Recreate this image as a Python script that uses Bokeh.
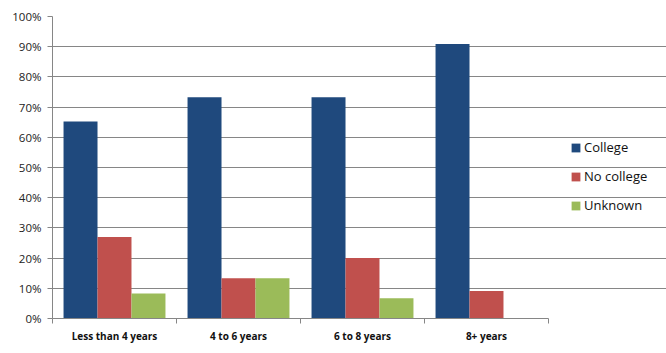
from bokeh.plotting import figure
from bokeh.models import ColumnDataSource, FixedTicker, NumeralTickFormatter, Legend, LegendItem, Range1d
from bokeh.transform import dodge
from bokeh.embed import file_html
from bokeh.resources import INLINE

categories = ["Less than 4 years", "4 to 6 years", "6 to 8 years", "8+ years"]
college = [0.652, 0.733, 0.733, 0.909]
no_college = [0.270, 0.133, 0.200, 0.091]
unknown = [0.083, 0.133, 0.067, 0.0]
series_names = ["College", "No college", "Unknown"]
colors = ["#1F497D", "#C0504D", "#9BBB59"]

n = len(categories)
xpos = [i + 0.5 for i in range(n)]
source = ColumnDataSource(dict(x=xpos, college=college, no_college=no_college, unknown=unknown))

# plot frame extends to the right edge so the legend can sit inside it;
# grid and x axis are bounded to the category span
frame_w = 666 - 52
cat_px = 124.0
p = figure(width=666, height=353, output_backend="svg", toolbar_location=None,
           x_range=Range1d(0, frame_w / cat_px), y_range=Range1d(0, 1),
           min_border_left=52, min_border_right=0, min_border_top=16, min_border_bottom=35)
p.outline_line_color = None
p.background_fill_color = "white"

bw = 0.274
renderers = []
for off, col, c in zip([-bw, 0, bw], ["college", "no_college", "unknown"], colors):
    r = p.vbar(x=dodge("x", off, range=p.x_range), top=col, width=bw, bottom=0,
               source=source, fill_color=c, line_color=None)
    renderers.append(r)

# axes
p.xgrid.visible = False
p.ygrid.grid_line_color = "#868686"
p.ygrid.grid_line_width = 1
p.ygrid.ticker = FixedTicker(ticks=[i / 10 for i in range(11)])
p.ygrid.bounds = (0, n)

p.yaxis.ticker = FixedTicker(ticks=[i / 10 for i in range(11)])
p.yaxis.formatter = NumeralTickFormatter(format="0%")
p.yaxis.axis_line_color = "#868686"
p.yaxis.major_tick_line_color = "#868686"
p.yaxis.major_tick_out = 5
p.yaxis.major_tick_in = 0
p.yaxis.minor_tick_line_color = None
p.yaxis.major_label_text_font = "Open Sans"
p.yaxis.major_label_text_font_size = "11.5px"
p.yaxis.major_label_text_color = "#222222"
p.yaxis.major_label_standoff = 6

p.xaxis.bounds = (0, n)
p.xaxis.ticker = FixedTicker(ticks=xpos, minor_ticks=list(range(n + 1)))
p.xaxis.major_label_overrides = {x: c for x, c in zip(xpos, categories)}
p.xaxis.axis_line_color = "#868686"
p.xaxis.major_tick_line_color = None
p.xaxis.major_tick_out = 0
p.xaxis.minor_tick_line_color = "#868686"
p.xaxis.minor_tick_out = 5
p.xaxis.minor_tick_in = 0
p.xaxis.major_label_text_font = "Open Sans"
p.xaxis.major_label_text_font_style = "bold"
p.xaxis.major_label_text_font_size = "10px"
p.xaxis.major_label_text_color = "#111111"
p.xaxis.major_label_standoff = 5

legend = Legend(items=[LegendItem(label=s, renderers=[r]) for s, r in zip(series_names, renderers)],
                location=(518, 104), padding=0, margin=0, border_line_alpha=0,
                background_fill_alpha=0, glyph_width=11, glyph_height=11, label_height=16,
                spacing=11, label_standoff=3, label_text_font="Open Sans",
                label_text_font_size="13px", label_text_color="#111111")
p.add_layout(legend, "center")

open("out.html", "w").write(file_html(p, INLINE))
